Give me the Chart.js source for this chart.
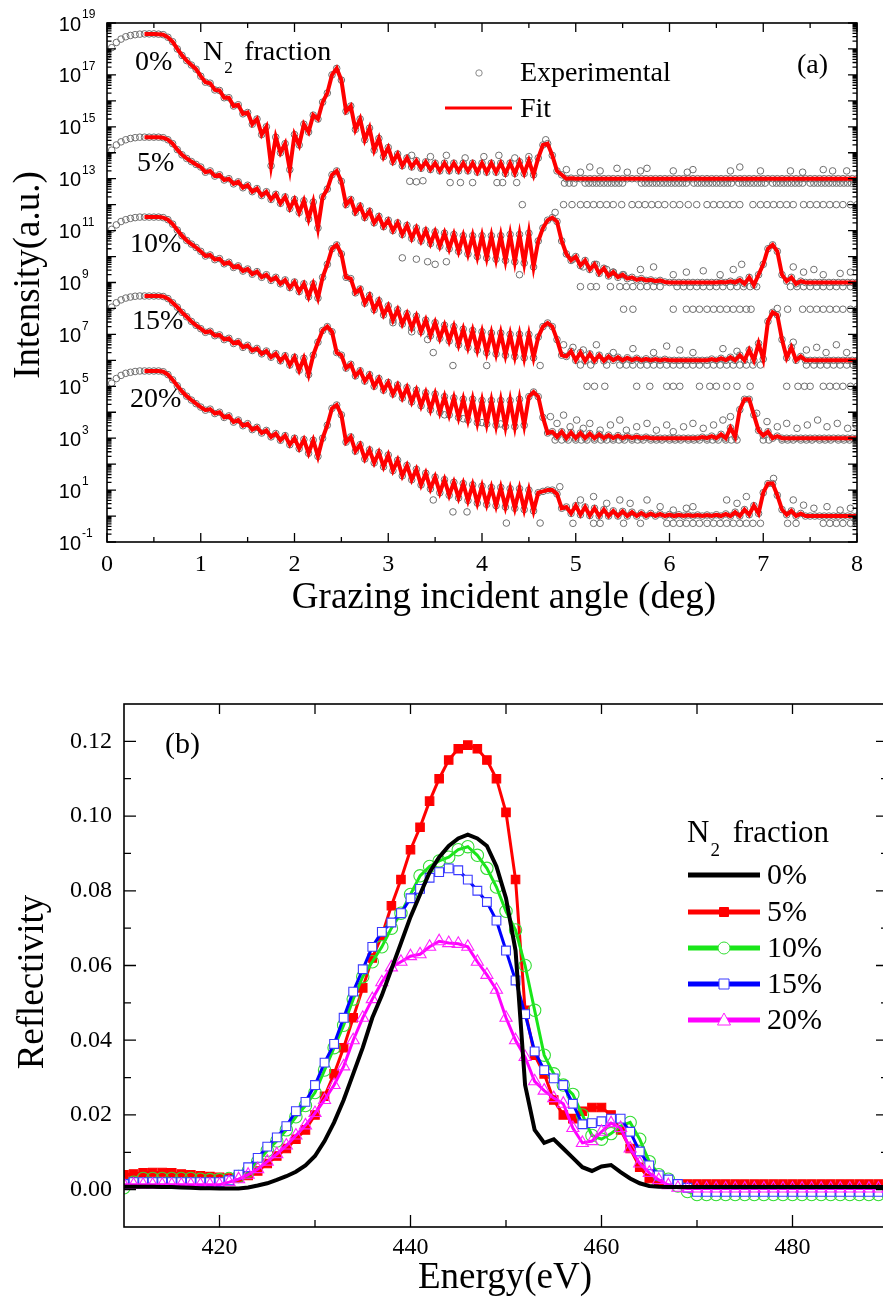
<!DOCTYPE html>
<html>
<head>
<meta charset="utf-8">
<script src="https://cdn.jsdelivr.net/npm/chart.js@4"></script>
<style>
html, body { margin: 0; padding: 0; background: #fff; width: 883px; height: 1302px; overflow: hidden; }
#xrr { position: absolute; left: 0; top: 0; }
#refl { position: absolute; left: 0; top: 650px; }
</style>
</head>
<body>
<canvas id="xrr" width="883" height="650"></canvas>
<canvas id="refl" width="900" height="652"></canvas>
<script>
// ---------- panel (a): XRR curves, values are log10(intensity) ----------
const angle = [0,0.05,0.1,0.15,0.2,0.25,0.3,0.35,0.4,0.45,0.5,0.55,0.6,0.65,0.7,0.75,0.8,0.85,0.9,0.95,
  1,1.05,1.1,1.15,1.2,1.25,1.3,1.35,1.4,1.45,1.5,1.55,1.6,1.65,1.7,1.75,1.8,1.85,1.9,1.95,
  2,2.05,2.1,2.15,2.2,2.25,2.3,2.35,2.4,2.45,2.5,2.55,2.6,2.65,2.7,2.75,2.8,2.85,2.9,2.95,
  3,3.05,3.1,3.15,3.2,3.25,3.3,3.35,3.4,3.45,3.5,3.55,3.6,3.65,3.7,3.75,3.8,3.85,3.9,3.95,
  4,4.05,4.1,4.15,4.2,4.25,4.3,4.35,4.4,4.45,4.5,4.55,4.6,4.65,4.7,4.75,4.8,4.85,4.9,4.95,
  5,5.05,5.1,5.15,5.2,5.25,5.3,5.35,5.4,5.45,5.5,5.55,5.6,5.65,5.7,5.75,5.8,5.85,5.9,5.95,
  6,6.05,6.1,6.15,6.2,6.25,6.3,6.35,6.4,6.45,6.5,6.55,6.6,6.65,6.7,6.75,6.8,6.85,6.9,6.95,
  7,7.05,7.1,7.15,7.2,7.25,7.3,7.35,7.4,7.45,7.5,7.55,7.6,7.65,7.7,7.75,7.8,7.85,7.9,7.95,
  8];

const logN0 = [17.75,18.05,18.25,18.38,18.47,18.52,18.55,18.57,18.58,18.58,18.58,18.57,18.55,18.45,18.28,18.0,17.75,17.55,17.38,17.22,
  16.95,16.72,16.68,16.42,16.4,16.12,16.12,15.8,15.85,15.5,15.55,15.1,15.3,14.7,15.0,13.5,14.6,14.0,14.35,13.35,
  14.7,14.3,15.1,14.8,15.45,15.3,15.95,16.3,17.0,17.25,16.8,15.6,15.8,14.9,15.3,14.5,14.95,14.1,14.55,13.85,
  14.2,13.65,13.95,13.5,13.8,13.45,13.7,13.4,13.65,13.35,13.6,13.3,13.6,13.3,13.6,13.3,13.6,13.3,13.6,13.25,
  13.6,13.25,13.6,13.25,13.6,13.2,13.6,13.2,13.65,13.2,13.7,13.15,13.8,14.3,14.35,13.9,13.3,13.15,13.0,13.02,
  13,13,13,13,13,13,13,13,13,13,13,13,13,13,13,13,13,13,13,13,
  13,13,13,13,13,13,13,13,13,13,13,13,13,13,13,13,13,13,13,13,
  13,13,13,13,13,13,13,13,13,13,13,13,13,13,13,13,13,13,13,13,
  13];
const logN5 = [13.8,14.1,14.3,14.42,14.5,14.55,14.58,14.6,14.6,14.6,14.6,14.6,14.58,14.5,14.35,14.12,13.92,13.78,13.66,13.55,
  13.45,13.25,13.3,13.1,13.15,12.95,13.0,12.8,12.88,12.65,12.75,12.5,12.62,12.35,12.5,12.2,12.4,12.05,12.3,11.85,
  12.2,11.7,12.15,11.45,12.1,11.1,12.3,12.6,13.15,13.3,12.9,12.0,12.2,11.7,11.95,11.5,11.75,11.3,11.55,11.15,
  11.4,11.0,11.3,10.85,11.2,10.7,11.1,10.6,11.0,10.5,10.95,10.4,10.9,10.3,10.85,10.2,10.8,10.1,10.8,10.0,
  10.8,9.95,10.8,9.9,10.8,9.85,10.85,9.8,10.85,9.75,10.9,9.6,10.6,11.1,11.4,11.5,11.35,10.6,10.1,9.85,
  10.0,9.65,9.85,9.5,9.7,9.35,9.55,9.25,9.4,9.2,9.3,9.15,9.2,9.1,9.15,9.08,9.1,9.05,9.08,9.02,
  9,9,9,9,9,9,9,9,9,9,9,9.02,9,9.05,9,9.1,8.95,9.2,8.9,9.3,
  9.7,10.3,10.45,10.2,9.3,9.05,9.2,8.95,9.05,9,9,9,9,9,9,9,9,9,9,9,
  9];
const logN10 = [10.75,11.05,11.22,11.35,11.42,11.47,11.5,11.52,11.52,11.52,11.52,11.52,11.5,11.42,11.25,11.02,10.8,10.62,10.48,10.35,
  10.2,10.02,10.06,9.88,9.92,9.72,9.78,9.58,9.64,9.44,9.52,9.32,9.42,9.2,9.3,9.08,9.2,8.95,9.1,8.8,
  9.02,8.65,8.95,8.45,8.95,8.4,9.2,9.7,10.3,10.45,10.1,9.2,9.15,8.6,8.75,8.2,8.5,7.95,8.3,7.75,
  8.1,7.55,7.95,7.4,7.8,7.25,7.7,7.1,7.55,6.95,7.45,6.85,7.35,6.75,7.3,6.6,7.2,6.5,7.15,6.4,
  7.1,6.3,7.05,6.25,7.05,6.2,7.0,6.15,7.0,6.1,7.0,6.1,6.9,7.3,7.44,7.3,6.8,6.2,6.15,6.35,
  6.0,6.3,5.98,6.25,5.98,6.2,5.98,6.15,6.0,6.12,6.0,6.1,6.0,6.08,6.0,6.06,6.0,6.05,6.0,6.04,
  6,6,6,6,6,6,6,6,6,6.05,6,6.08,6,6.12,6,6.2,6,6.4,6,6.65,
  6.05,7.5,7.85,7.75,6.8,6.1,6.5,6.0,6.15,6,6,6,6,6,6,6,6,6,6,6,
  6];
const logN15 = [7.75,8.05,8.22,8.33,8.4,8.44,8.47,8.48,8.48,8.48,8.48,8.48,8.46,8.38,8.22,8.05,7.85,7.68,7.5,7.35,
  7.22,7.08,7.12,6.95,6.98,6.8,6.85,6.65,6.72,6.5,6.58,6.38,6.46,6.25,6.36,6.12,6.26,5.98,6.18,5.82,
  6.12,5.62,6.08,5.45,6.2,6.7,7.15,7.3,7.1,6.3,6.2,5.7,5.85,5.4,5.6,5.2,5.45,5.0,5.3,4.85,
  5.15,4.7,5.05,4.55,4.95,4.4,4.85,4.25,4.75,4.1,4.7,4.0,4.6,3.9,4.55,3.8,4.5,3.7,4.5,3.6,
  4.45,3.55,4.45,3.5,4.45,3.45,4.45,3.45,4.5,3.5,4.6,4.78,4.6,3.8,3.2,3.25,3.05,3.25,3.0,3.22,
  3.0,3.2,3.0,3.18,3.0,3.15,3.0,3.12,3.0,3.1,3.0,3.08,3.0,3.06,3.0,3.04,3,3,3,3,
  3,3,3,3,3,3,3,3.04,3,3.08,3,3.15,3,3.4,3.05,4.1,4.5,4.5,3.9,3.3,
  3.1,3.25,3.0,3.08,3,3,3,3,3,3,3,3,3,3,3,3,3,3,3,3,
  3];
const logN20 = [4.8,5.12,5.3,5.42,5.5,5.54,5.57,5.59,5.59,5.59,5.59,5.59,5.56,5.45,5.25,5.02,4.8,4.62,4.47,4.33,
  4.2,4.08,4.12,3.95,4.0,3.8,3.86,3.62,3.7,3.48,3.56,3.33,3.42,3.2,3.3,3.05,3.18,2.92,3.1,2.75,
  3.0,2.6,2.95,2.42,2.92,2.3,3.0,3.5,4.15,4.28,3.9,2.85,3.05,2.5,2.75,2.2,2.55,2.05,2.45,1.9,
  2.35,1.75,2.15,1.55,1.95,1.4,1.8,1.2,1.65,1.05,1.5,0.9,1.4,0.8,1.3,0.7,1.25,0.6,1.2,0.5,
  1.15,0.45,1.1,0.4,1.1,0.35,1.05,0.3,1.05,0.25,1.0,0.2,0.9,0.95,1.0,1.0,0.85,0.3,0.35,0.1,
  0.4,0.05,0.35,0.02,0.3,0,0.25,0,0.2,0,0.18,0,0.15,0,0.12,0,0.1,0,0.08,0,
  0.06,0,0.05,0,0.04,0,0.04,0,0.04,0,0.05,0,0.08,0,0.15,0,0.25,0.05,0.4,0.1,
  0.9,1.25,1.25,0.8,0.25,0.05,0.2,0,0.1,0,0,0,0,0,0,0,0,0,0,0,
  0];

// measured points lying off the fitted curve: [angle, log10 intensity]
const offFit0 = [[3.23,12.9],[3.3,12.88],[3.37,12.92],[3.66,12.85],[3.77,12.85],[3.9,12.85],[4.16,12.85],[4.22,12.85],[4.37,12.85],[4.43,12.0],
  [3.25,13.9],[3.45,13.85],[3.62,13.9],[3.82,13.8],[4.02,13.85],[4.18,13.9],[4.35,13.8],[4.5,13.85],[4.68,14.5],
  [4.9,13.35],[5.05,13.25],[5.15,13.45],[5.26,13.3],[5.44,13.4],[5.55,13.25],[5.69,13.3],[5.76,13.4],[6.04,13.3],[6.19,13.25],
  [6.25,13.35],[6.65,13.3],[6.75,13.45],[6.97,13.3],[7.29,13.3],[7.42,13.25],[7.64,13.35],[7.74,13.3],[7.89,13.3]];
const offFit5 = [[3.15,9.95],[3.3,9.9],[3.42,9.8],[3.5,9.7],[3.62,9.8],[4.4,9.3],[4.78,11.7],[4.97,9.9],[5.08,9.6],[5.22,9.7],
  [5.33,9.5],[5.4,9.4],[5.51,9.3],[5.69,9.5],[5.83,9.6],[6.04,9.3],[6.18,9.4],[6.36,9.45],[6.54,9.3],[6.68,9.5],[6.77,9.7],
  [7.32,9.6],[7.43,9.4],[7.54,9.5],[7.64,9.3],[7.82,9.35],[7.93,9.4]];
const offFit10 = [[3.05,7.45],[3.25,7.1],[3.42,6.8],[3.48,6.3],[3.69,5.8],[4.05,5.8],[4.62,5.8],[4.87,6.6],[4.97,6.5],[5.08,6.4],
  [5.22,6.6],[5.4,6.3],[5.61,6.45],[5.83,6.3],[5.97,6.55],[6.11,6.4],[6.25,6.3],[6.57,6.45],[6.72,6.35],[7.15,8.0],
  [7.32,6.7],[7.46,6.4],[7.57,6.5],[7.67,6.3],[7.78,6.6],[7.89,6.3]];
const offFit15 = [[3.6,3.9],[3.8,3.75],[4.0,3.6],[4.2,3.55],[4.73,3.83],[4.8,3.57],[4.87,3.89],[4.94,3.44],[5.01,3.7],[5.08,3.38],
  [5.15,3.57],[5.26,3.31],[5.37,3.51],[5.47,3.7],[5.54,3.31],[5.65,3.44],[5.76,3.57],[5.86,3.31],[5.97,3.51],[6.04,3.25],
  [6.15,3.44],[6.25,3.57],[6.36,3.38],[6.47,3.51],[6.57,3.7],[6.65,3.83],[6.93,3.96],[7.04,3.64],[7.15,3.44],[7.25,3.57],
  [7.36,3.38],[7.47,3.51],[7.58,3.7],[7.68,3.44],[7.79,3.57],[7.9,3.38],[7.99,3.51]];
const offFit20 = [[3.48,0.62],[3.69,0.16],[3.84,0.16],[4.26,-0.27],[4.62,-0.27],[4.83,1.13],[5.05,0.62],[5.19,0.75],[5.33,0.49],
  [5.47,0.62],[5.58,0.49],[5.76,0.62],[5.9,0.36],[6.04,0.23],[6.18,0.3],[6.25,0.36],[6.61,0.62],[6.72,0.49],[6.82,0.75],
  [7.11,1.45],[7.32,0.62],[7.43,0.42],[7.54,0.3],[7.68,0.36],[7.82,0.23],[7.93,0.3]];

// rows of low-count points sitting at one level: angles of each row
const row0a = [4.88,4.93,4.98,5.1,5.14,5.18,5.22,5.26,5.3,5.34,5.38,5.42,5.46,5.5,5.7,5.74,5.78,5.82,5.86,5.9,5.94,5.98,6.02,6.06,6.1,6.14,6.18,
  6.26,6.3,6.34,6.38,6.42,6.46,6.5,6.54,6.58,6.62,6.66,6.74,6.78,6.82,6.86,6.9,6.94,6.98,7.02,7.1,7.14,7.18,7.22,7.26,7.3,7.34,7.38,7.42,
  7.5,7.54,7.58,7.62,7.66,7.7,7.74,7.78,7.82,7.86,7.9,7.94,7.98];
const row0b = [4.87,4.96,5.05,5.12,5.19,5.26,5.33,5.4,5.49,5.6,5.67,5.74,5.81,5.88,5.95,6.04,6.11,6.2,6.29,6.4,6.47,6.54,6.61,6.68,6.75,
  6.89,6.97,7.04,7.11,7.18,7.25,7.32,7.43,7.5,7.57,7.64,7.71,7.78,7.85,7.93,8.0];
const row5a = [5.05,5.16,5.22,5.37,5.47,5.54,5.61,5.69,5.76,5.83,5.9,6.08,6.15,6.22,6.29,6.36,6.43,6.5,6.57,6.65,6.72,6.79,6.86,6.93,
  7.29,7.36,7.43,7.5,7.57,7.64,7.71,7.78,7.85,7.93,8.0];
const row5b = [5.51,5.61,6.04,6.18,6.25,6.32,6.4,6.47,6.54,6.61,6.68,6.75,6.82,6.87,7.26,7.42,7.5,7.57,7.64,7.71,7.78,7.85,7.93,8.0];
const row10a = [5.05,5.16,5.33,5.47,5.54,5.61,5.69,5.76,5.83,5.9,5.97,6.04,6.11,6.18,6.25,6.32,6.4,6.47,6.54,6.61,6.68,6.75,6.82,6.89,6.97,
  7.46,7.54,7.61,7.68,7.75,7.82,7.89,7.96];
const row10b = [5.12,5.2,5.31,5.65,5.79,5.97,6.04,6.11,6.32,6.43,6.5,6.61,6.72,6.86,7.25,7.37,7.44,7.5,7.64,7.71,7.78,7.85,7.93,8.0];
const row15a = [4.78,4.85,4.92,5.0,5.06,5.12,5.2,5.27,5.33,5.4,5.46,5.52,5.6,5.66,5.72,5.8,5.86,5.92,6.0,6.06,6.12,6.2,6.26,6.32,6.4,
  6.46,6.52,6.6,6.66,6.72,7.0,7.06,7.2,7.26,7.32,7.4,7.46,7.52,7.6,7.66,7.72,7.8,7.86,7.92,8.0];
const row20a = [4.97,5.19,5.26,5.51,5.69,5.97,6.04,6.11,6.18,6.25,6.32,6.4,6.47,6.54,6.61,6.68,6.75,6.82,6.89,6.97,7.26,7.35,7.64,7.71,7.78,7.85,7.93,8.0];
// [curve index, log10 level, angles]
const floorRows = [[0, 12.83, row0a], [0, 12.0, row0b], [1, 8.84, row5a], [1, 7.97, row5b],
  [2, 5.82, row10a], [2, 5.0, row10b], [3, 2.93, row15a], [4, -0.28, row20a]];

const fractionLabels = ['0%', '5%', '10%', '15%', '20%'];
const xTicksA = [0, 1, 2, 3, 4, 5, 6, 7, 8];
const yTickExpA = [19, 17, 15, 13, 11, 9, 7, 5, 3, 1, -1];

// ---------- panel (b): soft x-ray reflectivity ----------
const energy = [410,411,412,413,414,415,416,417,418,419,420,421,422,423,424,425,426,427,428,429,
  430,431,432,433,434,435,436,437,438,439,440,441,442,443,444,445,446,447,448,449,
  450,451,452,453,454,455,456,457,458,459,460,461,462,463,464,465,466,467,468,469,
  470,471,472,473,474,475,476,477,478,479,480,481,482,483,484,485,486,487,488,489,490];
const refl0 = [0.0008,0.0008,0.0008,0.0008,0.0007,0.0007,0.0006,0.0005,0.0004,0.0004,
  0.0003,0.0003,0.0003,0.0006,0.0011,0.0017,0.0026,0.0036,0.0048,0.0065,
  0.009,0.013,0.018,0.024,0.031,0.038,0.046,0.052,0.059,0.066,
  0.073,0.079,0.085,0.089,0.092,0.094,0.095,0.094,0.092,0.0865,
  0.078,0.064,0.028,0.016,0.0125,0.0135,0.011,0.0085,0.006,0.005,
  0.0062,0.0066,0.0047,0.003,0.0017,0.001,0.0008,0.0007,0.0007,0.0007,
  0.0007,0.0007,0.0007,0.0007,0.0007,0.0007,0.0007,0.0007,0.0007,0.0007,
  0.0007,0.0007,0.0007,0.0007,0.0007,0.0007,0.0007,0.0007,0.0007,0.0007,0.0007];
const refl5 = [0.004,0.0042,0.0045,0.0046,0.0046,0.0045,0.0042,0.004,0.0037,0.0035,
  0.0033,0.0031,0.0032,0.0038,0.005,0.007,0.009,0.011,0.0135,0.016,
  0.02,0.025,0.031,0.038,0.046,0.054,0.062,0.068,0.076,0.083,
  0.091,0.097,0.104,0.11,0.115,0.118,0.119,0.118,0.115,0.11,
  0.101,0.083,0.048,0.036,0.031,0.024,0.02,0.019,0.021,0.022,
  0.022,0.02,0.016,0.011,0.006,0.003,0.0018,0.0015,0.0015,0.0015,
  0.0015,0.0015,0.0015,0.0015,0.0015,0.0015,0.0015,0.0015,0.0015,0.0015,
  0.0015,0.0015,0.0015,0.0015,0.0015,0.0015,0.0015,0.0015,0.0015,0.0015,0.0015];
const refl10 = [0.0005,0.002,0.003,0.003,0.003,0.003,0.003,0.003,0.0028,0.0027,
  0.0027,0.003,0.0035,0.005,0.0075,0.0105,0.013,0.016,0.0195,0.0225,
  0.026,0.032,0.038,0.044,0.051,0.057,0.061,0.065,0.07,0.074,
  0.079,0.084,0.0865,0.088,0.089,0.091,0.0918,0.0895,0.086,0.081,
  0.0745,0.0695,0.06,0.048,0.036,0.031,0.028,0.0255,0.02,0.0145,
  0.0135,0.015,0.017,0.018,0.0135,0.0075,0.004,0.0028,0.001,-0.0005,
  -0.0013,-0.0013,-0.0013,-0.0013,-0.0013,-0.0013,-0.0013,-0.0013,-0.0013,-0.0013,
  -0.0013,-0.0013,-0.0013,-0.0013,-0.0013,-0.0013,-0.0013,-0.0013,-0.0013,-0.0013,-0.0013];
const refl15 = [0.0015,0.002,0.002,0.002,0.002,0.002,0.002,0.002,0.002,0.002,
  0.002,0.0025,0.004,0.006,0.0085,0.0115,0.014,0.017,0.021,0.0235,
  0.028,0.034,0.039,0.046,0.053,0.059,0.065,0.069,0.0715,0.074,
  0.078,0.0805,0.0835,0.085,0.086,0.0855,0.083,0.08,0.077,0.072,
  0.064,0.056,0.047,0.037,0.032,0.0298,0.028,0.023,0.0175,0.0178,
  0.0183,0.019,0.019,0.0155,0.0102,0.0065,0.0038,0.0027,0.0015,0.0005,
  -0.0006,-0.0006,-0.0006,-0.0006,-0.0006,-0.0006,-0.0006,-0.0006,-0.0006,-0.0006,
  -0.0006,-0.0006,-0.0006,-0.0006,-0.0006,-0.0006,-0.0006,-0.0006,-0.0006,-0.0006,-0.0006];
const refl20 = [0.0013,0.0013,0.0013,0.0013,0.0013,0.0013,0.0013,0.0013,0.0013,0.0013,
  0.0013,0.002,0.0028,0.004,0.0055,0.0075,0.0095,0.0118,0.0145,0.0172,
  0.0205,0.024,0.028,0.033,0.04,0.046,0.051,0.0555,0.0595,0.061,
  0.0625,0.063,0.065,0.0665,0.066,0.0658,0.065,0.061,0.0575,0.0535,
  0.046,0.04,0.0355,0.029,0.0265,0.0245,0.023,0.0165,0.0125,0.013,
  0.0155,0.0178,0.0165,0.011,0.007,0.0045,0.0026,0.0012,0.0005,0.0003,
  0.0003,0.0003,0.0003,0.0003,0.0003,0.0003,0.0003,0.0003,0.0003,0.0003,
  0.0003,0.0003,0.0003,0.0003,0.0003,0.0003,0.0003,0.0003,0.0003,0.0003,0.0003];
const xTicksB = [420, 440, 460, 480];
const yTicksB = [0, 0.02, 0.04, 0.06, 0.08, 0.1, 0.12];

const serif = '"Liberation Serif", "Times New Roman", serif';
const sans = '"Liberation Sans", Arial, sans-serif';
const FIT_FROM = 8;   // fit curve starts at 0.4 deg

function logPoints(xs, logs, from) {
    var pts = [];
    for (var i = from || 0; i < xs.length; i++) pts.push({x: xs[i], y: Math.pow(10, logs[i])});
    return pts;
}
function points(xs, ys) {
    return xs.map((x, i) => ({x: x, y: ys[i]}));
}

// draws N with subscript 2 and "fraction"
function n2fraction(ctx, x, y, size) {
    ctx.textAlign = 'left';
    ctx.textBaseline = 'middle';
    ctx.font = size + 'px ' + serif;
    ctx.fillText('N', x, y);
    var w = ctx.measureText('N').width;
    ctx.font = Math.round(size * 0.6) + 'px ' + serif;
    ctx.fillText('2', x + w + 1, y + size * 0.55);
    ctx.font = size + 'px ' + serif;
    ctx.fillText('fraction', x + w + size * 0.75, y);
}

// ----- chart (a) -----
const curvesA = [logN0, logN5, logN10, logN15, logN20];
const offFitA = [offFit0, offFit5, offFit10, offFit15, offFit20];
const datasetsA = [];
curvesA.forEach((c, k) => {
    datasetsA.push({
        data: logPoints(angle, c, FIT_FROM),
        borderColor: '#ff0000', borderWidth: 4, pointRadius: 0, order: 0
    });
});
curvesA.forEach((c, k) => {
    var pts = logPoints(angle, c, 0);
    offFitA[k].forEach(p => pts.push({x: p[0], y: Math.pow(10, p[1])}));
    floorRows.forEach(r => {
        if (r[0] === k) r[2].forEach(a => pts.push({x: a, y: Math.pow(10, r[1])}));
    });
    datasetsA.push({
        data: pts, showLine: false, order: 1,
        pointRadius: 3.3, pointStyle: 'circle', pointBorderWidth: 1,
        pointBorderColor: '#6e6e6e', pointBackgroundColor: 'rgba(0,0,0,0)'
    });
});

const decorA = {
    id: 'decorA',
    afterDraw(chart) {
        const ctx = chart.ctx, a = chart.chartArea, x = chart.scales.x, y = chart.scales.y;
        ctx.save();
        ctx.strokeStyle = '#000';
        ctx.fillStyle = '#000';
        ctx.lineWidth = 1.6;
        ctx.strokeRect(a.left, a.top, a.right - a.left, a.bottom - a.top);

        ctx.lineWidth = 1.3;
        ctx.beginPath();
        for (var i = 0; i < xTicksA.length; i++) {
            [0, 0.5].forEach(off => {
                var v = xTicksA[i] + off;
                if (v > xTicksA[xTicksA.length - 1]) return;
                var px = x.getPixelForValue(v), len = off ? 5 : 9;
                ctx.moveTo(px, a.bottom); ctx.lineTo(px, a.bottom - len);
                ctx.moveTo(px, a.top); ctx.lineTo(px, a.top + len);
            });
        }
        for (var d = -1; d <= 19; d++) {
            for (var m = 1; m <= (d < 19 ? 9 : 1); m++) {
                var py = y.getPixelForValue(m * Math.pow(10, d)), len = m === 1 ? 9 : 4.5;
                ctx.moveTo(a.left, py); ctx.lineTo(a.left + len, py);
                ctx.moveTo(a.right, py); ctx.lineTo(a.right - len, py);
            }
        }
        ctx.stroke();

        // tick labels
        ctx.textBaseline = 'middle';
        ctx.textAlign = 'center';
        ctx.font = '24px ' + serif;
        xTicksA.forEach(v => ctx.fillText(String(v), x.getPixelForValue(v), a.bottom + 23));
        yTickExpA.forEach(e => {
            var py = y.getPixelForValue(Math.pow(10, e));
            ctx.font = '20px ' + sans;
            ctx.textAlign = 'right';
            ctx.fillText('10', 81, py + 2);
            ctx.font = '12px ' + sans;
            ctx.textAlign = 'left';
            ctx.fillText(String(e), 82, py - 8);
        });

        // axis titles
        ctx.font = '37px ' + serif;
        ctx.textAlign = 'center';
        ctx.fillText('Grazing incident angle (deg)', 504, 598);
        ctx.save();
        ctx.translate(29, 275);
        ctx.rotate(-Math.PI / 2);
        ctx.fillText('Intensity(a.u.)', 0, 0);
        ctx.restore();

        // curve labels
        ctx.font = '28px ' + serif;
        ctx.textAlign = 'left';
        const labelPos = [[135, 63], [137, 164], [130, 245], [132, 322], [130, 400]];
        fractionLabels.forEach((t, k) => ctx.fillText(t, labelPos[k][0], labelPos[k][1]));
        n2fraction(ctx, 203, 53, 28);
        ctx.textAlign = 'left';
        ctx.font = '28px ' + serif;
        ctx.fillText('(a)', 797, 66);

        // legend
        ctx.fillText('Experimental', 520, 74);
        ctx.fillText('Fit', 520, 110);
        ctx.strokeStyle = '#8a8a8a';
        ctx.lineWidth = 1;
        ctx.beginPath();
        ctx.arc(479, 73, 3.2, 0, Math.PI * 2);
        ctx.stroke();
        ctx.strokeStyle = '#ff0000';
        ctx.lineWidth = 3;
        ctx.beginPath();
        ctx.moveTo(445, 108); ctx.lineTo(512, 108);
        ctx.stroke();
        ctx.restore();
    }
};

new Chart(document.getElementById('xrr').getContext('2d'), {
    type: 'line',
    data: {datasets: datasetsA},
    options: {
        responsive: false, animation: false, devicePixelRatio: 1,
        layout: {padding: {top: 23, right: 26, left: 0, bottom: 0}, autoPadding: false},
        plugins: {legend: {display: false}, tooltip: {enabled: false}},
        scales: {
            x: {type: 'linear', min: 0, max: 8, ticks: {display: false}, grid: {display: false},
                border: {display: false}, afterFit: s => { s.height = 108; }},
            y: {type: 'logarithmic', min: 0.1, max: 1e19, ticks: {display: false}, grid: {display: false},
                border: {display: false}, afterFit: s => { s.width = 107; }}
        }
    },
    plugins: [decorA]
});

// ----- chart (b) -----
const styleB = [
    {color: '#000000', width: 4, point: false, radius: 0, fill: '#000000', order: 0},
    {color: '#ff0000', width: 3, point: 'rect', radius: 6, fill: '#ff0000', order: 4},
    {color: '#19e619', width: 3, point: 'circle', radius: 6.2, fill: 'rgba(255,255,255,0)', order: 3},
    {color: '#0000ff', width: 3, point: 'rect', radius: 6.2, fill: '#ffffff', order: 2},
    {color: '#ff00ff', width: 3, point: 'triangle', radius: 7, fill: 'rgba(255,255,255,0)', order: 1}
];
const markerColor = ['#000000', '#ff0000', '#33dd33', '#3a3aff', '#ff22ff'];
const seriesB = [refl0, refl5, refl10, refl15, refl20];
const datasetsB = seriesB.map((s, k) => ({
    label: fractionLabels[k],
    data: points(energy, s),
    borderColor: styleB[k].color,
    borderWidth: styleB[k].width,
    pointStyle: styleB[k].point,
    pointRadius: styleB[k].radius,
    pointBorderColor: markerColor[k],
    pointBackgroundColor: styleB[k].fill,
    pointBorderWidth: 1.1,
    order: styleB[k].order
}));

function legendMarker(ctx, k, cx, cy) {
    var st = styleB[k];
    ctx.lineWidth = 1;
    ctx.strokeStyle = markerColor[k];
    ctx.fillStyle = k === 1 ? '#ff0000' : '#ffffff';
    ctx.beginPath();
    if (st.point === 'rect') {
        var h = k === 1 ? 4.5 : 5;
        ctx.rect(cx - h, cy - h, 2 * h, 2 * h);
    } else if (st.point === 'circle') {
        ctx.arc(cx, cy, 6, 0, Math.PI * 2);
    } else if (st.point === 'triangle') {
        ctx.moveTo(cx, cy - 7);
        ctx.lineTo(cx + 6.5, cy + 5);
        ctx.lineTo(cx - 6.5, cy + 5);
        ctx.closePath();
    } else {
        return;
    }
    ctx.fill();
    ctx.stroke();
}

const decorB = {
    id: 'decorB',
    afterDraw(chart) {
        const ctx = chart.ctx, a = chart.chartArea, x = chart.scales.x, y = chart.scales.y;
        ctx.save();
        ctx.strokeStyle = '#000';
        ctx.fillStyle = '#000';
        ctx.lineWidth = 1.6;
        ctx.strokeRect(a.left, a.top, a.right - a.left, a.bottom - a.top);

        ctx.lineWidth = 1.3;
        ctx.beginPath();
        xTicksB.forEach(v => {
            var px = x.getPixelForValue(v), pm = x.getPixelForValue(v + 10);
            ctx.moveTo(px, a.bottom); ctx.lineTo(px, a.bottom - 12);
            ctx.moveTo(px, a.top); ctx.lineTo(px, a.top + 10);
            if (v + 10 < x.max) {
                ctx.moveTo(pm, a.bottom); ctx.lineTo(pm, a.bottom - 7);
                ctx.moveTo(pm, a.top); ctx.lineTo(pm, a.top + 10);
            }
        });
        yTicksB.forEach(v => {
            var py = y.getPixelForValue(v), pm = y.getPixelForValue(v + 0.01);
            ctx.moveTo(a.left, py); ctx.lineTo(a.left + 12, py);
            ctx.moveTo(a.right, py); ctx.lineTo(a.right - 12, py);
            if (v + 0.01 < y.max - 0.001) {
                ctx.moveTo(a.left, pm); ctx.lineTo(a.left + 7, pm);
                ctx.moveTo(a.right, pm); ctx.lineTo(a.right - 7, pm);
            }
        });
        ctx.stroke();

        ctx.textBaseline = 'middle';
        ctx.font = '24px ' + serif;
        ctx.textAlign = 'center';
        xTicksB.forEach(v => ctx.fillText(String(v), x.getPixelForValue(v), a.bottom + 21));
        ctx.textAlign = 'right';
        yTicksB.forEach(v => ctx.fillText(v.toFixed(2), 112, y.getPixelForValue(v)));

        ctx.textAlign = 'center';
        ctx.font = '37px ' + serif;
        ctx.fillText('Energy(eV)', 505, 628);
        ctx.save();
        ctx.translate(33, 332);
        ctx.rotate(-Math.PI / 2);
        ctx.fillText('Reflectivity', 0, 0);
        ctx.restore();

        ctx.textAlign = 'left';
        ctx.font = '30px ' + serif;
        ctx.fillText('(b)', 165, 95);

        // legend
        n2fraction(ctx, 687, 184, 31);
        const rowsY = [225, 262, 298, 334, 370];
        fractionLabels.forEach((t, k) => {
            ctx.strokeStyle = styleB[k].color;
            ctx.lineWidth = 5;
            ctx.beginPath();
            ctx.moveTo(688, rowsY[k]); ctx.lineTo(760, rowsY[k]);
            ctx.stroke();
            legendMarker(ctx, k, 724, rowsY[k]);
            ctx.fillStyle = '#000';
            ctx.font = '30px ' + serif;
            ctx.textAlign = 'left';
            ctx.fillText(t, 767, rowsY[k] + 1);
        });
        ctx.restore();
    }
};

new Chart(document.getElementById('refl').getContext('2d'), {
    type: 'line',
    data: {datasets: datasetsB},
    options: {
        responsive: false, animation: false, devicePixelRatio: 1,
        layout: {padding: {top: 54, right: 12, left: 0, bottom: 0}, autoPadding: false},
        plugins: {legend: {display: false}, tooltip: {enabled: false}},
        scales: {
            x: {type: 'linear', min: 410, max: 490, ticks: {display: false}, grid: {display: false},
                border: {display: false}, afterFit: s => { s.height = 75; }},
            y: {type: 'linear', min: -0.01, max: 0.13, ticks: {display: false}, grid: {display: false},
                border: {display: false}, afterFit: s => { s.width = 124; }}
        }
    },
    plugins: [decorB]
});
</script>
</body>
</html>
